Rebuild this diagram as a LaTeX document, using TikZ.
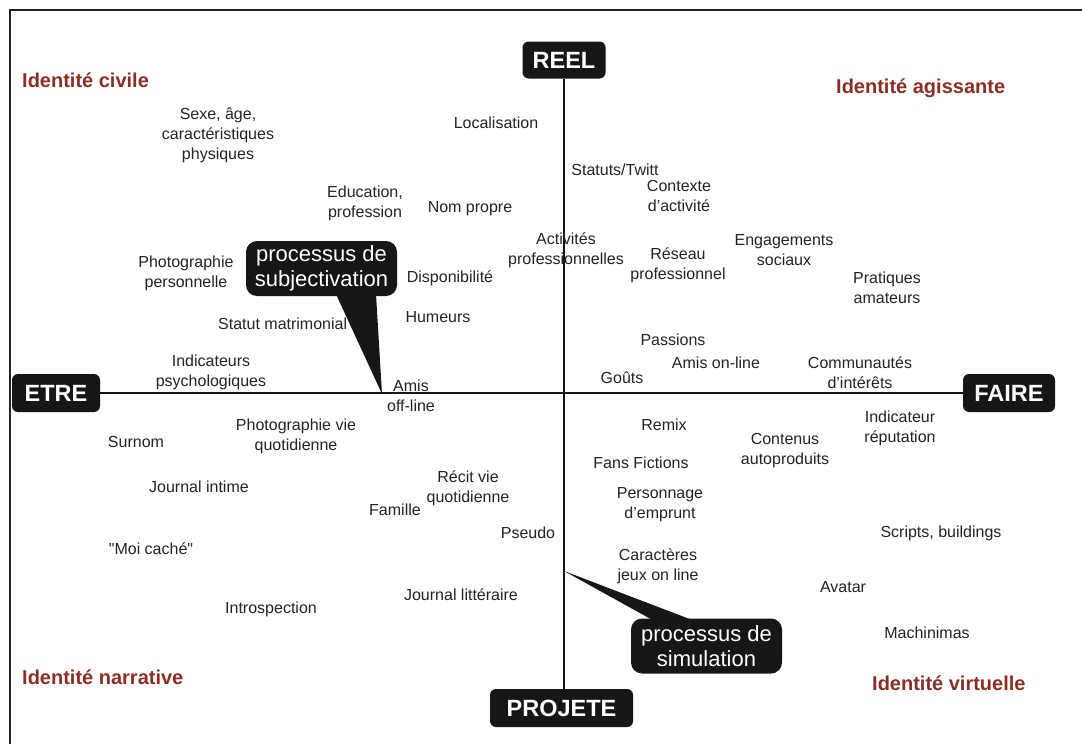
\documentclass[tikz,border=0pt]{standalone}
\usepackage{fontspec}
\setmainfont{Liberation Sans}
\newfontfamily\plainsans{Liberation Sans}
\definecolor{lbl}{RGB}{140,45,38}
\definecolor{ink}{RGB}{35,35,35}
\definecolor{boxc}{RGB}{22,22,22}
\begin{document}
\begin{tikzpicture}[x=1pt,y=-1pt,
  item/.style={inner sep=0pt, align=center, text=ink, font=\fontsize{16}{20}\selectfont},
  zone/.style={inner sep=0pt, anchor=west, text=lbl, font=\bfseries\fontsize{20}{22}\selectfont},
  axisbox/.style={fill=boxc, text=white, rounded corners=6pt, inner sep=0pt, font=\bfseries\fontsize{23.5}{24}\selectfont},
  callout/.style={fill=boxc, text=white, rounded corners=11pt, inner sep=0pt, align=center, minimum width=151pt, minimum height=55pt, font=\fontsize{22}{25}\selectfont},
  axisline/.style={line width=2.5pt, draw=boxc},
  frameline/.style={line width=2pt, draw=ink}]
\useasboundingbox (0,0) rectangle (1082,744);
% frame
\coordinate (ftr) at (1082,10);
\coordinate (ftl) at (10,10);
\coordinate (fbl) at (10,744);
\draw[frameline] (ftr) -- (ftl) -- (fbl);
% axis boxes
\node[axisbox, minimum width=83pt, minimum height=37pt] (REEL) at (564,60) {REEL};
\node[axisbox, minimum width=88pt, minimum height=38pt] (ETRE) at (56,393) {ETRE};
\node[axisbox, minimum width=92pt, minimum height=38pt] (FAIRE) at (1009,393) {FAIRE};
\node[axisbox, minimum width=143pt, minimum height=38pt] (PROJETE) at (561.5,708) {PROJETE};
\draw[axisline] (REEL.south) -- (REEL.south |- PROJETE.north);
\draw[axisline] (ETRE.east) -- (FAIRE.west);
% zone labels
\node[zone] (zciv) at (22,80) {Identité civile};
\node[zone] (zagi) at (836,88) {Identité agissante};
\node[zone] (znar) at (22,677) {Identité narrative};
\node[zone] (zvir) at (872,683) {Identité virtuelle};
% items
\node[item] (t1) at (218,135) {Sexe, âge,\\caractéristiques\\physiques};
\node[item] (t2) at (496,123) {Localisation};
\node[item] (t3) at (615,170) {Statuts/Twitt};
\node[item] (t4) at (679,195.5) {Contexte\\d'activité};
\node[item] (t5) at (365,203) {Education,\\profession};
\node[item] (t6) at (470,209) {Nom propre};
\node[item] (t7) at (566,250) {Activités\\professionnelles};
\node[item] (t8) at (678,265.5) {Réseau\\professionnel};
\node[item] (t9) at (784,250) {Engagements\\sociaux};
\node[item] (t10) at (887,288) {Pratiques\\amateurs};
\node[item] (t11) at (186,273) {Photographie\\personnelle};
\node[item] (t12) at (450,278) {Disponibilité};
\node[item] (t13) at (438,317) {Humeurs};
\node[item, anchor=west] (t14) at (218,324) {Statut matrimonial};
\node[item] (t15) at (673,340) {Passions};
\node[item] (t16) at (716,363) {Amis on-line};
\node[item] (t17) at (860,373) {Communautés\\d'intérêts};
\node[item] (t18) at (622,378) {Goûts};
\node[item] (t19) at (211,372.5) {Indicateurs\\psychologiques};
\node[item] (t20) at (411,396) {Amis\\off-line};
\node[item] (t21) at (664,425) {Remix};
\node[item] (t22) at (900,428) {Indicateur\\réputation};
\node[item] (t23) at (785,451) {Contenus\\autoproduits};
\node[item] (t24) at (136,442) {Surnom};
\node[item] (t25) at (296,436) {Photographie vie\\quotidienne};
\node[item] (t26) at (641,463) {Fans Fictions};
\node[item] (t27) at (199,487) {Journal intime};
\node[item] (t28) at (468,488) {Récit vie\\quotidienne};
\node[item] (t29) at (395,510) {Famille};
\node[item] (t30) at (660,505) {Personnage\\d'emprunt};
\node[item] (t31) at (528,533) {Pseudo};
\node[item] (t32) at (941,533) {Scripts, buildings};
\node[item] (t33) at (151,549) {{\plainsans "}Moi caché{\plainsans "}};
\node[item] (t34) at (658,566) {Caractères\\jeux on line};
\node[item] (t35) at (461,595) {Journal littéraire};
\node[item] (t36) at (843,587) {Avatar};
\node[item] (t37) at (271,609) {Introspection};
\node[item] (t38) at (927,633) {Machinimas};
% callouts
\node[callout] (subj) at (321.5,268.5) {processus de\\subjectivation};
\coordinate (subjtip) at (382,394);
\fill[boxc] ([xshift=14.5pt,yshift=2pt]subj.south) -- (subjtip) -- ([xshift=54.5pt,yshift=2pt]subj.south) -- cycle;
\node[callout] (sim) at (706.5,646) {processus de\\simulation};
\coordinate (simtip) at (564,571);
\fill[boxc] ([xshift=-53.5pt,yshift=-2pt]sim.north) -- (simtip) -- ([xshift=-13.5pt,yshift=-2pt]sim.north) -- cycle;
\end{tikzpicture}
\end{document}
